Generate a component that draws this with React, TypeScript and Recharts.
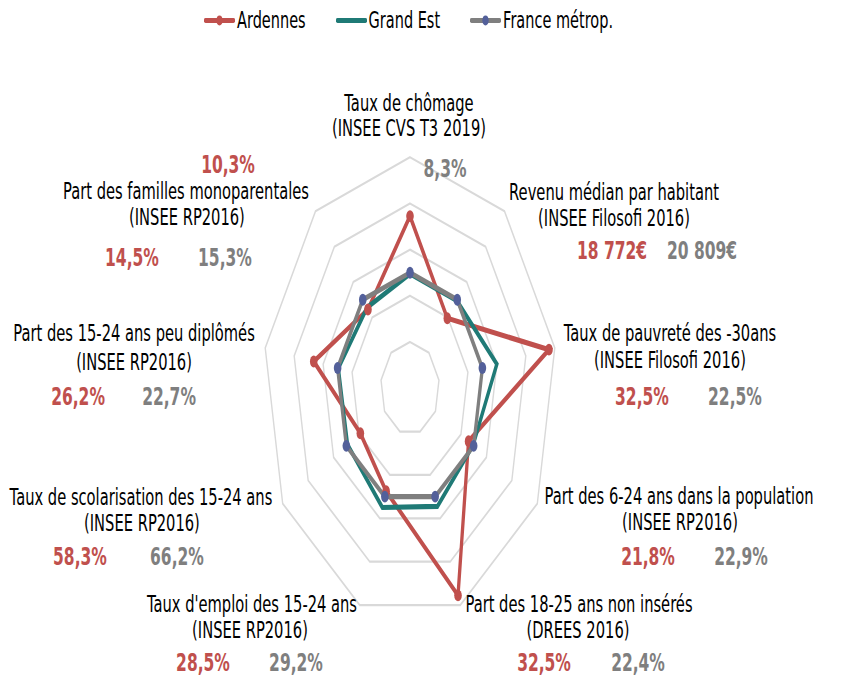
import React from "react";
import { RadarChart, Radar, PolarGrid, PolarAngleAxis, PolarRadiusAxis, Legend } from "recharts";

const categories = [
  "Taux de chômage",
  "Revenu médian par habitant",
  "Taux de pauvreté des -30ans",
  "Part des 6-24 ans dans la population",
  "Part des 18-25 ans non insérés",
  "Taux d'emploi des 15-24 ans",
  "Taux de scolarisation des 15-24 ans",
  "Part des 15-24 ans peu diplômés",
  "Part des familles monoparentales",
];
const sources = [
  "(INSEE CVS T3 2019)",
  "(INSEE Filosofi 2016)",
  "(INSEE Filosofi 2016)",
  "(INSEE RP2016)",
  "(DREES 2016)",
  "(INSEE RP2016)",
  "(INSEE RP2016)",
  "(INSEE RP2016)",
  "(INSEE RP2016)",
];
const ardennesLabels = ["10,3%", "18 772€", "32,5%", "21,8%", "32,5%", "28,5%", "58,3%", "26,2%", "14,5%"];
const franceLabels = ["8,3%", "20 809€", "22,5%", "22,9%", "22,4%", "29,2%", "66,2%", "22,7%", "15,3%"];

// index values (France = 1)
const ardennes = [1.49, 0.79, 1.92, 0.92, 1.91, 0.95, 0.78, 1.33, 0.89];
const grandEst = [0.99, 0.99, 1.2, 0.99, 1.09, 1.1, 0.98, 0.99, 0.91];
const france = [1, 1, 1, 1, 1, 1, 1, 1, 1];
const radiusTicks = [0, 0.4, 0.8, 1.2, 1.6, 2];

const data = categories.map((c, i) => ({
  name: c,
  ardennes: ardennes[i],
  grandEst: grandEst[i],
  france: france[i],
}));

const RED = "#c0504d";
const TEAL = "#1f7a76";
const GREY = "#7f7f7f";
const DOT_BLUE = "#53609a";
const FONT = "'DejaVu Sans', Verdana, sans-serif";

const SY = 677 / 431;
const OUTER = 147;
const RMAX = radiusTicks[radiusTicks.length - 1];
const gridRadii = radiusTicks.filter((t) => t > 0).map((t) => (OUTER * t) / RMAX);

// label offsets relative to the axis tick anchor: [name, source, red value, grey value]
const LABEL_OFFSETS = [
  [[-1, -26.5], [-1, -10.6], [-182, 12.9], [35, 15.5]],
  [[104.4, -6.2], [104.4, 10.4], [102.4, 31.4], [192.4, 31.4]],
  [[107.3, -8.2], [107.3, 9], [79.3, 32.5], [172.3, 32.5]],
  [[134.8, -8.8], [135.8, 7.7], [103.8, 30], [196.8, 30]],
  [[116, -8.3], [115, 8.3], [81, 29.3], [175, 29.3]],
  [[-105, -8.3], [-107, 8.3], [-154, 29.3], [-61, 29.3]],
  [[-134.8, -8.2], [-133.8, 8.4], [-195.8, 30], [-98.8, 30]],
  [[-123.3, -8.2], [-123.3, 10.3], [-179.3, 32.5], [-88.3, 32.5]],
  [[-124.4, -6.8], [-123.4, 9.7], [-178.4, 35.8], [-85.4, 35.8]],
];

const renderTick = (props: any) => {
  const { x, y, payload } = props;
  const i = categories.indexOf(payload.value);
  if (i < 0) return <g />;
  const o = LABEL_OFFSETS[i];
  const common = { textAnchor: "middle" as const, dominantBaseline: "central" as const, fontFamily: FONT };
  return (
    <g>
      <text {...common} x={x + o[0][0]} y={y + o[0][1]} fontSize={14.7} fill="#000">{categories[i]}</text>
      <text {...common} x={x + o[1][0]} y={y + o[1][1]} fontSize={14.7} fill="#000">{sources[i]}</text>
      <text {...common} x={x + o[2][0]} y={y + o[2][1]} fontSize={15.5} fontWeight="bold" fill={RED}>{ardennesLabels[i]}</text>
      <text {...common} x={x + o[3][0]} y={y + o[3][1]} fontSize={15.5} fontWeight="bold" fill={GREY}>{franceLabels[i]}</text>
    </g>
  );
};

const legendItems = [
  { label: "Ardennes", color: RED, dot: RED },
  { label: "Grand Est", color: TEAL, dot: null },
  { label: "France métrop.", color: GREY, dot: DOT_BLUE },
];

const renderLegend = () => (
  <div style={{ display: "flex", alignItems: "center", fontFamily: FONT, fontSize: 14.5, lineHeight: "16px", color: "#000", paddingLeft: 204 }}>
    {legendItems.map((it, k) => (
      <div key={k} style={{ display: "flex", alignItems: "center", marginRight: 30 }}>
        <svg width={31} height={10} style={{ marginRight: 2 }}>
          <line x1={1.5} y1={5} x2={29.5} y2={5} stroke={it.color} strokeWidth={3.2} strokeLinecap="round" />
          {it.dot && <circle cx={15.5} cy={5} r={3.2} fill={it.dot} />}
        </svg>
        <span>{it.label}</span>
      </div>
    ))}
  </div>
);

export default function App() {
  return (
    <div style={{ position: "absolute", left: 0, top: 0, width: 843, height: 677, overflow: "hidden", background: "#fff" }}>
      <div style={{ width: 843, height: 431, transform: `scaleY(${SY})`, transformOrigin: "0 0" }}>
        <RadarChart width={843} height={431} data={data} cx={410} cy={247.1} outerRadius={OUTER} startAngle={90} endAngle={-270} margin={{ top: 0, right: 0, bottom: 0, left: 0 }}>
          <PolarGrid gridType="polygon" radialLines={false} polarRadius={gridRadii} stroke="#d9d9d9" strokeWidth={1.4} />
          <PolarRadiusAxis domain={[0, RMAX]} ticks={radiusTicks} tickCount={6} tick={false} axisLine={false} />
          <PolarAngleAxis dataKey="name" tick={renderTick} axisLine={false} tickLine={false} />
          <Radar name="Ardennes" dataKey="ardennes" stroke={RED} strokeWidth={3.3} fill="none" fillOpacity={0}
            dot={{ r: 3.8, fill: RED, stroke: RED, strokeWidth: 0, fillOpacity: 1 }} isAnimationActive={false} />
          <Radar name="Grand Est" dataKey="grandEst" stroke={TEAL} strokeWidth={3.3} fill="none" fillOpacity={0}
            dot={false} isAnimationActive={false} />
          <Radar name="France métrop." dataKey="france" stroke={GREY} strokeWidth={3.3} fill="none" fillOpacity={0}
            dot={{ r: 3.8, fill: DOT_BLUE, stroke: DOT_BLUE, strokeWidth: 0, fillOpacity: 1 }} isAnimationActive={false} />
          <Legend verticalAlign="top" content={renderLegend} wrapperStyle={{ top: 4.7, left: 0, width: 843 }} />
        </RadarChart>
      </div>
    </div>
  );
}
